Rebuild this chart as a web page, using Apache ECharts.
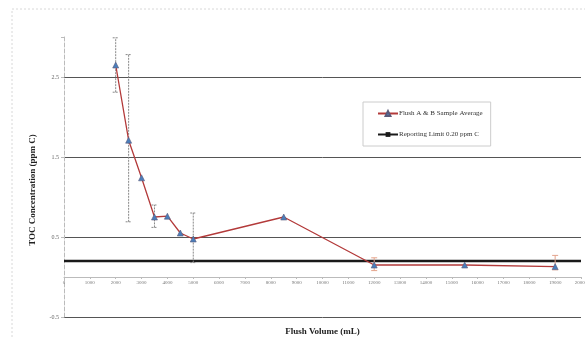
<!DOCTYPE html>
<html>
<head>
<meta charset="utf-8">
<script src="https://cdn.jsdelivr.net/npm/echarts@6/dist/echarts.min.js"></script>
<style>
  html, body { margin: 0; padding: 0; background: #fff; }
  #chart { width: 585px; height: 338px; }
</style>
</head>
<body>
<div id="chart"></div>
<script>
// flush volume (mL) and average TOC (ppm C)
const flushVolume = [2000, 2500, 3000, 3500, 4000, 4500, 5000, 8500, 12000, 15500, 19000];
const tocAverage = [2.65, 1.71, 1.24, 0.75, 0.76, 0.55, 0.475, 0.75, 0.15, 0.15, 0.13];

// error bars: [x, low, high]
const errDotted = [
    [2000, 2.31, 2.99],
    [2500, 0.69, 2.78],
    [3500, 0.62, 0.9],
    [5000, 0.18, 0.8]
];
const errSolid = [
    [12000, 0.08, 0.24],
    [19000, 0.09, 0.27]
];

const reportingLimit = 0.2;
const xRange = [0, 20000];
const yTicks = [-0.5, 0.5, 1.5, 2.5];

const chart = echarts.init(document.getElementById('chart'));

const serif = 'Liberation Serif';

function errorBar(color, dashed) {
    return function (params, api) {
        const x = api.value(0);
        const lo = api.coord([x, api.value(1)]);
        const hi = api.coord([x, api.value(2)]);
        const cap = 3;
        const style = { stroke: color, lineWidth: 1, lineDash: dashed ? [2, 1] : null };
        return {
            type: 'group',
            children: [
                { type: 'line', shape: { x1: lo[0], y1: lo[1], x2: hi[0], y2: hi[1] }, style: style },
                { type: 'line', shape: { x1: lo[0] - cap, y1: lo[1], x2: lo[0] + cap, y2: lo[1] }, style: style },
                { type: 'line', shape: { x1: hi[0] - cap, y1: hi[1], x2: hi[0] + cap, y2: hi[1] }, style: style }
            ]
        };
    };
}

chart.setOption({
    backgroundColor: '#fff',
    animation: false,
    grid: { left: 64, right: 4, top: 37, bottom: 21, containLabel: false, outerBoundsMode: 'none' },
    graphic: [
        {
            type: 'rect',
            shape: { x: 12, y: 9, width: 580, height: 340 },
            style: { fill: 'none', stroke: '#d8d8d8', lineWidth: 1, lineDash: [2, 2] },
            silent: true
        },
        {
            type: 'text',
            x: 33, y: 190,
            rotation: Math.PI / 2,
            style: {
                text: 'TOC Concentration (ppm C)',
                font: 'bold 9px "Liberation Serif"',
                fill: '#222',
                align: 'center',
                verticalAlign: 'middle'
            }
        }
    ],
    legend: {
        orient: 'vertical',
        left: 363,
        top: 102,
        width: 159,
        height: 48,
        padding: [8, 8, 8, 14],
        itemGap: 14,
        itemWidth: 20,
        itemHeight: 6,
        borderColor: '#ccc',
        borderWidth: 1,
        textStyle: { fontFamily: serif, fontSize: 7, color: '#333', padding: [0, 0, 0, -4] },
        data: ['Flush A & B Sample Average', 'Reporting Limit 0.20 ppm C']
    },
    xAxis: {
        type: 'value',
        min: xRange[0],
        max: xRange[1],
        interval: 1000,
        name: 'Flush Volume (mL)',
        nameLocation: 'middle',
        nameGap: 10,
        nameTextStyle: { fontFamily: serif, fontWeight: 'bold', fontSize: 9, color: '#222' },
        axisLine: { onZero: true, lineStyle: { color: '#bbb', width: 1 } },
        axisTick: { show: true, length: 2, lineStyle: { color: '#bbb' } },
        axisLabel: {
            fontFamily: serif, fontSize: 5, color: '#777', margin: -37,
            formatter: function (v) { return String(v); }
        },
        splitLine: { show: false }
    },
    yAxis: {
        type: 'value',
        min: -0.5,
        max: 3,
        interval: 1,
        axisLine: { show: true, lineStyle: { color: '#bbb', type: 'dashed', width: 1 } },
        axisTick: { show: true, length: 3, lineStyle: { color: '#bbb' } },
        axisLabel: {
            fontFamily: serif, fontSize: 6, color: '#666', margin: 5,
            formatter: function (v) { return yTicks.indexOf(v) >= 0 ? String(v) : ''; }
        },
        splitLine: {
            show: true,
            lineStyle: { color: ['#555', '#555', '#555', '#555', 'rgba(0,0,0,0)'], width: 1 }
        }
    },
    series: [
        {
            name: 'Reporting Limit 0.20 ppm C',
            type: 'line',
            data: [[xRange[0], reportingLimit], [xRange[1], reportingLimit]],
            symbol: 'rect',
            symbolSize: 5,
            showSymbol: false,
            itemStyle: { color: '#1a1a1a' },
            lineStyle: { color: '#1a1a1a', width: 2.5 },
            z: 2
        },
        {
            name: 'err dotted',
            type: 'custom',
            data: errDotted,
            renderItem: errorBar('#888', true),
            z: 3
        },
        {
            name: 'err solid',
            type: 'custom',
            data: errSolid,
            renderItem: errorBar('#e4a48c', false),
            z: 3
        },
        {
            name: 'Flush A & B Sample Average',
            type: 'line',
            data: flushVolume.map((x, i) => [x, tocAverage[i]]),
            symbol: 'triangle',
            symbolSize: 6,
            itemStyle: { color: '#4a7ebb', borderColor: '#5a5a7a', borderWidth: 0.6 },
            lineStyle: { color: '#b33a3a', width: 1.3 },
            z: 4
        }
    ]
});
</script>
</body>
</html>
